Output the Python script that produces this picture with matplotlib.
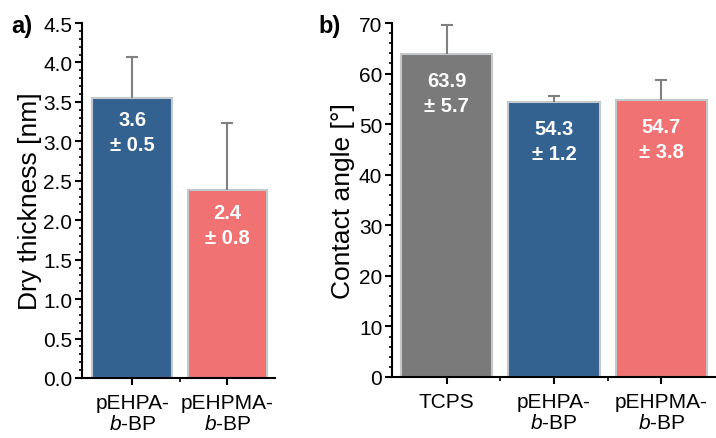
import matplotlib
matplotlib.use("Agg")
import matplotlib.pyplot as plt
from matplotlib.ticker import MultipleLocator

plt.rcParams['font.family'] = ['Liberation Sans', 'DejaVu Sans']
plt.rcParams['mathtext.fontset'] = 'custom'
plt.rcParams['mathtext.it'] = 'Liberation Sans:italic'
plt.rcParams['mathtext.rm'] = 'Liberation Sans'

# Panel a data
cats_a = ["pEHPA-\n$b$-BP", "pEHPMA-\n$b$-BP"]
thick = [3.55, 2.38]
thick_err = [0.52, 0.85]
thick_lbl = ["3.6\n± 0.5", "2.4\n± 0.8"]
colors_a = ["#336291", "#f07272"]

# Panel b data
cats_b = ["TCPS", "pEHPA-\n$b$-BP", "pEHPMA-\n$b$-BP"]
angle = [63.9, 54.3, 54.7]
angle_err = [5.7, 1.3, 4.0]
angle_lbl = ["63.9\n± 5.7", "54.3\n± 1.2", "54.7\n± 3.8"]
colors_b = ["#7a7a7a", "#336291", "#f07272"]

W, H = 716, 439
fig = plt.figure(figsize=(W/100, H/100), dpi=100)

def fx(p): return p / W
def fy(p): return 1 - p / H

ax1 = fig.add_axes([fx(82), fy(379), fx(275) - fx(82), fy(24) - fy(379)])
ax2 = fig.add_axes([fx(392), fy(378), fx(715) - fx(392), fy(24) - fy(378)])

def style(ax, n, ymax, major, minor, xl):
    for s in ['top', 'right']:
        ax.spines[s].set_visible(False)
    for s in ['left', 'bottom']:
        ax.spines[s].set_linewidth(1.5)
        ax.spines[s].set_color('black')
    ax.set_ylim(0, ymax)
    ax.set_xlim(xl)
    ax.yaxis.set_major_locator(MultipleLocator(major))
    ax.yaxis.set_minor_locator(MultipleLocator(minor))
    ax.set_xticks(range(n))
    ax.set_xticks([i + 0.5 for i in range(n - 1)], minor=True)
    ax.tick_params(axis='y', which='major', direction='out', length=5, width=1.5, labelsize=15, pad=2)
    ax.tick_params(axis='y', which='minor', direction='out', length=2.5, width=1.2)
    ax.tick_params(axis='x', which='major', direction='out', length=5, width=1.5, labelsize=15, pad=6)
    ax.tick_params(axis='x', which='minor', direction='out', length=3, width=1.2)

def bars(ax, x, vals, errs, colors, width):
    c = ax.bar(x, vals, width=width, color=colors, edgecolor='#c4c8cc', linewidth=1.5,
               yerr=[[0]*len(vals), errs],
               error_kw=dict(ecolor='#808080', elinewidth=1.5, capsize=4, capthick=1.5))
    # hide the lower caps (sitting on the bar tops)
    caps = c.errorbar.lines[1]
    for cap in caps:
        yd = list(cap.get_ydata())
        if all(abs(a - b) < 1e-9 for a, b in zip(yd, vals)):
            cap.set_visible(False)
    return c

# Panel a
x_a = range(len(cats_a))
bars(ax1, x_a, thick, thick_err, colors_a, 0.84)
style(ax1, len(cats_a), 4.5, 0.5, 0.1, (-0.53, 1.5))
ax1.set_xticklabels(cats_a, linespacing=1.12)
ax1.set_yticklabels([f"{v:.1f}" for v in ax1.get_yticks()])
ax1.set_ylabel("Dry thickness [nm]", fontsize=19, labelpad=1)
for i, (v, t) in enumerate(zip(thick, thick_lbl)):
    ax1.annotate(t, (i, v), xytext=(0, -9), textcoords='offset points', ha='center', va='top',
                 color='white', fontsize=14.5, fontweight='bold', linespacing=1.4)
fig.text(fx(11), fy(27), "a)", fontsize=17, fontweight='bold', va='center', ha='left')

# Panel b
x_b = range(len(cats_b))
bars(ax2, x_b, angle, angle_err, colors_b, 0.85)
style(ax2, len(cats_b), 70, 10, 2, (-0.51, 2.5))
ax2.set_xticklabels(cats_b, linespacing=1.12)
ax2.set_ylabel("Contact angle [°]", fontsize=19, labelpad=3)
for i, (v, t) in enumerate(zip(angle, angle_lbl)):
    ax2.annotate(t, (i, v), xytext=(0, -12), textcoords='offset points', ha='center', va='top',
                 color='white', fontsize=14.5, fontweight='bold', linespacing=1.4)
fig.text(fx(318), fy(27), "b)", fontsize=17, fontweight='bold', va='center', ha='left')

fig.savefig("out.png", dpi=100)
